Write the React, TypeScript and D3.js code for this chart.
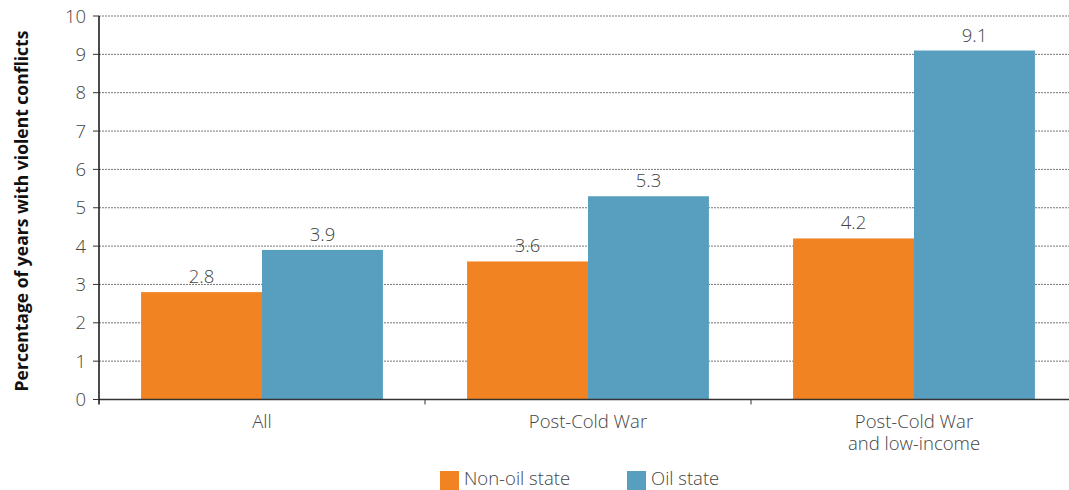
import React from "react";
import * as d3 from "d3";

const categories: string[][] = [["All"], ["Post-Cold War"], ["Post-Cold War", "and low-income"]];
const seriesNames = ["Non-oil state", "Oil state"];
const nonOil = [2.8, 3.6, 4.2];
const oil = [3.9, 5.3, 9.1];
const yTicks = [0, 1, 2, 3, 4, 5, 6, 7, 8, 9, 10];
const colors = ["#F28322", "#589FBF"];

export default function App() {
  const W = 1069, H = 490;
  const left = 99, right = 1077, top = 16, bottom = 399.5;
  const x0 = d3.scaleBand<number>().domain([0, 1, 2]).range([left, right]).paddingInner(0).paddingOuter(0);
  const inner = d3.scaleBand<number>().domain([0, 1]).range([0, x0.bandwidth()]).paddingInner(0).paddingOuter(0.348);
  const y = d3.scaleLinear().domain([0, 10]).range([bottom, top]);
  const series = [nonOil, oil];
  const font = "'Open Sans', 'Noto Sans', sans-serif";
  const fs = 18.5;
  return (
    <svg width={W} height={H} style={{ position: "absolute", left: 0, top: 0 }} fontFamily={font}>
      {yTicks.slice(1).map((t) => (
        <line key={t} x1={left} x2={W} y1={y(t)} y2={y(t)} stroke="#777" strokeWidth={1} strokeDasharray="2,1" />
      ))}
      {series.map((s, si) =>
        s.map((v, i) => (
          <rect key={`${si}-${i}`} x={x0(i)! + inner(si)!} y={y(v)} width={inner.bandwidth()} height={bottom - y(v)} fill={colors[si]} />
        ))
      )}
      {series.map((s, si) =>
        s.map((v, i) => (
          <text key={`l${si}-${i}`} x={x0(i)! + inner(si)! + inner.bandwidth() / 2} y={y(v) - 9} textAnchor="middle" fontSize={fs} fontWeight={300} fill="#444">
            {v.toFixed(1)}
          </text>
        ))
      )}
      <line x1={left} x2={W} y1={bottom} y2={bottom} stroke="#333" strokeWidth={1.5} />
      <line x1={left} x2={left} y1={top} y2={bottom + 5} stroke="#111" strokeWidth={1.5} />
      {yTicks.map((t) => (
        <g key={t}>
          <line x1={left - 6} x2={left} y1={y(t)} y2={y(t)} stroke="#333" strokeWidth={1} />
          <text x={left - 13} y={y(t) + 6.5} textAnchor="end" fontSize={fs} fontWeight={300} fill="#444">{t}</text>
        </g>
      ))}
      {[1, 2].map((i) => (
        <line key={i} x1={x0(i)!} x2={x0(i)!} y1={bottom} y2={bottom + 5} stroke="#333" strokeWidth={1} />
      ))}
      {categories.map((lines, i) =>
        lines.map((l, j) => (
          <text key={`${i}-${j}`} x={x0(i)! + x0.bandwidth() / 2} y={428 + j * 22} textAnchor="middle" fontSize={fs} fontWeight={300} fill="#444">
            {l}
          </text>
        ))
      )}
      <text transform={`translate(28,211) rotate(-90)`} textAnchor="middle" fontSize={17.5} fontWeight={700} fill="#111">
        Percentage of years with violent conflicts
      </text>
      {seriesNames.map((n, i) => {
        const lx = i === 0 ? 440 : 627;
        return (
          <g key={n}>
            <rect x={lx} y={471} width={19} height={19} fill={colors[i]} />
            <text x={lx + 24} y={485} fontSize={fs} fontWeight={300} fill="#444">{n}</text>
          </g>
        );
      })}
    </svg>
  );
}
